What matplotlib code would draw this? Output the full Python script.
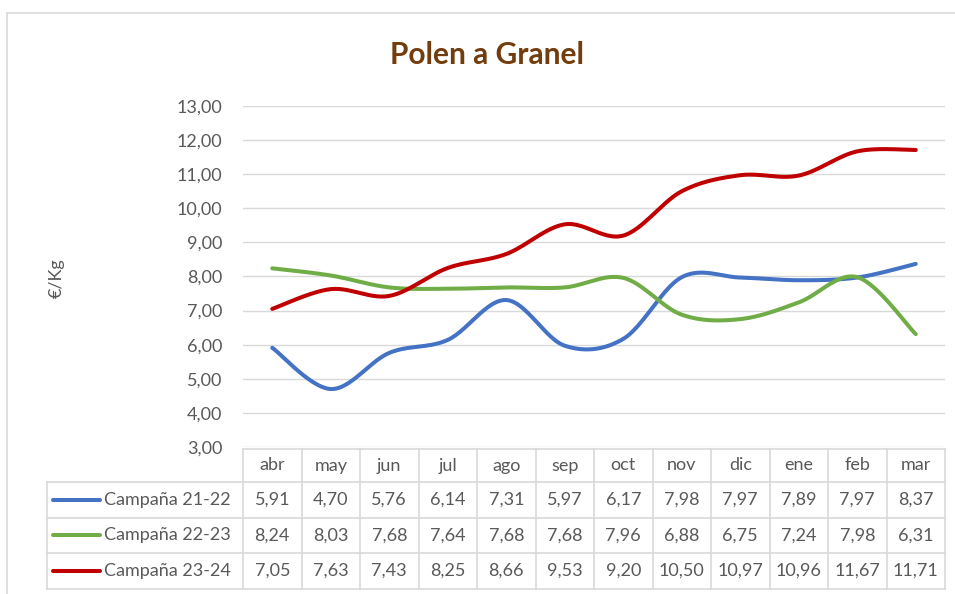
import numpy as np
import matplotlib
matplotlib.use("Agg")
import matplotlib.pyplot as plt
from matplotlib.transforms import blended_transform_factory
from matplotlib.patches import Rectangle

months = ["abr", "may", "jun", "jul", "ago", "sep", "oct", "nov", "dic", "ene", "feb", "mar"]
series_names = ["Campaña 21-22", "Campaña 22-23", "Campaña 23-24"]
c2122 = [5.91, 4.70, 5.76, 6.14, 7.31, 5.97, 6.17, 7.98, 7.97, 7.89, 7.97, 8.37]
c2223 = [8.24, 8.03, 7.68, 7.64, 7.68, 7.68, 7.96, 6.88, 6.75, 7.24, 7.98, 6.31]
c2324 = [7.05, 7.63, 7.43, 8.25, 8.66, 9.53, 9.20, 10.50, 10.97, 10.96, 11.67, 11.71]
colors = ["#4472C4", "#70AD47", "#C00000"]

plt.rcParams["font.family"] = ["Lato", "DejaVu Sans"]
text_color = "#595959"
grid_color = "#D9D9D9"
fs = 13


def smooth(y, n=30):
    """Excel-style smoothed line (Catmull-Rom bezier between points)."""
    y = np.asarray(y, dtype=float)
    x = np.arange(len(y), dtype=float)
    px = np.concatenate([[x[0]], x, [x[-1]]])
    py = np.concatenate([[y[0]], y, [y[-1]]])
    xs, ys = [], []
    t = np.linspace(0, 1, n)
    for i in range(len(y) - 1):
        p0 = np.array([px[i + 1], py[i + 1]])
        p3 = np.array([px[i + 2], py[i + 2]])
        c1 = p0 + (p3 - np.array([px[i], py[i]])) / 6
        c2 = p3 - (np.array([px[i + 3], py[i + 3]]) - p0) / 6
        b = ((1 - t) ** 3)[:, None] * p0 + (3 * (1 - t) ** 2 * t)[:, None] * c1 \
            + (3 * (1 - t) * t ** 2)[:, None] * c2 + (t ** 3)[:, None] * p3
        xs.append(b[:, 0])
        ys.append(b[:, 1])
    return np.concatenate(xs), np.concatenate(ys)


W, H = 955, 594
fig = plt.figure(figsize=(W / 100, H / 100), dpi=100)

# outer chart border
fig.patches.append(Rectangle((7 / W, -0.1), 1.2, 1 - 13 / H + 0.1, transform=fig.transFigure,
                             fill=False, edgecolor="#D9D9D9", linewidth=1.2))

left, right, top, bottom = 243, 945, 106, 447
ax = fig.add_axes([left / W, 1 - bottom / H, (right - left) / W, (bottom - top) / H])

for s, c in zip([c2122, c2223, c2324], colors):
    sx, sy = smooth(s)
    ax.plot(sx, sy, color=c, linewidth=2.9, solid_capstyle="round", zorder=3)

ax.set_xlim(-0.5, len(months) - 0.5)
ax.set_ylim(3, 13)
ax.set_yticks(np.arange(3, 14, 1))
ax.set_yticklabels([f"{v:.2f}".replace(".", ",") for v in np.arange(3, 14, 1)],
                   fontsize=fs, color=text_color)
ax.tick_params(axis="y", length=0, pad=15)
ax.set_xticks([])
ax.grid(axis="y", color=grid_color, linewidth=1)
for sp in ax.spines.values():
    sp.set_visible(False)

fig.text(57 / W, 1 - 278 / H, "€/Kg", rotation=90, fontsize=fs, color=text_color,
         ha="center", va="center")
fig.text(487 / W, 1 - 55 / H, "Polen a Granel", fontsize=21.5, fontweight="bold",
         color="#733C0C", ha="center", va="center")

# data table under the plot
tr = blended_transform_factory(ax.transData, fig.transFigure)
col_w = (right - left) / len(months)
leg_x = -0.5 - (left - 47) / col_w
fy = lambda py: 1 - py / H
row_edges = [449, 482, 517.5, 553, 589]
lc = "#D9D9D9"

ax.plot([-0.5, 11.5], [fy(row_edges[0])] * 2, transform=tr, color=lc, lw=1.2, clip_on=False)
for yy in row_edges[1:]:
    ax.plot([leg_x, 11.5], [fy(yy)] * 2, transform=tr, color=lc, lw=1.2, clip_on=False)
ax.plot([leg_x, leg_x], [fy(row_edges[1]), fy(row_edges[-1])], transform=tr, color=lc,
        lw=1.2, clip_on=False)
for i in range(len(months) + 1):
    ax.plot([i - 0.5] * 2, [fy(row_edges[0]), fy(row_edges[-1])], transform=tr, color=lc,
            lw=1.2, clip_on=False)

hy = fy((row_edges[0] + row_edges[1]) / 2)
for i, m in enumerate(months):
    ax.text(i, hy, m, transform=tr, ha="center", va="center", fontsize=fs, color=text_color)

for r, (name, s, c) in enumerate(zip(series_names, [c2122, c2223, c2324], colors)):
    cy = fy((row_edges[r + 1] + row_edges[r + 2]) / 2)
    lx0 = leg_x + 6 / col_w
    lx1 = leg_x + 53 / col_w
    ax.plot([lx0, lx1], [cy, cy], transform=tr, color=c, lw=2.9, solid_capstyle="round",
            clip_on=False)
    ax.text(leg_x + 57 / col_w, cy, name, transform=tr, ha="left", va="center",
            fontsize=fs, color=text_color)
    for i, v in enumerate(s):
        ax.text(i, cy, f"{v:.2f}".replace(".", ","), transform=tr, ha="center",
                va="center", fontsize=fs, color=text_color)

fig.savefig("out.png", dpi=100)
